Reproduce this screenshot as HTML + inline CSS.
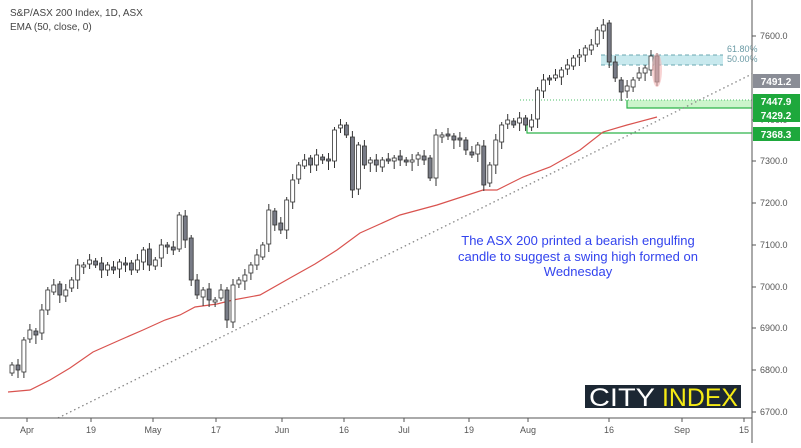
<!DOCTYPE html><html><head><meta charset="utf-8"><style>
body{margin:0;background:#fff;width:801px;height:443px;overflow:hidden;font-family:"Liberation Sans",sans-serif}
</style></head><body>
<svg id="s" width="801" height="443" xmlns="http://www.w3.org/2000/svg" font-family="Liberation Sans, sans-serif">
<rect width="801" height="443" fill="#fff"/>
<text x="10" y="16" font-size="10" fill="#444">S&amp;P/ASX 200 Index, 1D, ASX</text>
<text x="10" y="30" font-size="10" fill="#444">EMA (50, close, 0)</text>
<rect x="601" y="55" width="122" height="10" fill="#c8e9ee"/>
<line x1="601" y1="55" x2="723" y2="55" stroke="#6aa7b0" stroke-dasharray="4,3"/>
<line x1="601" y1="65" x2="723" y2="65" stroke="#6aa7b0" stroke-dasharray="4,3"/>
<text x="727" y="52" font-size="9" fill="#6a9aa5">61.80%</text>
<text x="727" y="62" font-size="9" fill="#6a9aa5">50.00%</text>
<rect x="627" y="100" width="125" height="8" fill="#ccf5cc"/>
<line x1="520" y1="100" x2="752" y2="100" stroke="#4cbf6a" stroke-dasharray="1,2"/>
<polyline points="627,100 627,108 752,108" fill="none" stroke="#2db34a" stroke-width="1.2"/>
<polyline points="527,125 527,133 752,133" fill="none" stroke="#2db34a" stroke-width="1.2"/>
<line x1="58" y1="418" x2="752" y2="74" stroke="#888" stroke-width="1.3" stroke-dasharray="1.5,3"/>
<polyline fill="none" stroke="#d9534f" stroke-width="1.2" points="8,392 30,390 50,380 70,368 93,352 120,340 143,330 165,320 180,315 195,307 217,304 233,300 260,295 290,278 315,264 337,250 360,233 400,215 437,205 483,190 497,190 523,177 550,167 580,150 603,132 627,125 657,117"/>
<g id="c"></g>
<ellipse cx="657" cy="70" rx="5" ry="17" fill="#f3b6b6" opacity="0.6"/>
<line x1="752" y1="0" x2="752" y2="443" stroke="#555"/>
<line x1="0" y1="418" x2="752" y2="418" stroke="#555"/>
<g font-size="9" fill="#555" id="yl"></g>
<g font-size="9" fill="#555" text-anchor="middle" id="xl"></g>
<rect x="753" y="74" width="47" height="14" fill="#8a8d96"/><text x="776" y="85" font-size="10" fill="#fff" text-anchor="middle" font-weight="bold">7491.2</text>
<rect x="753" y="94" width="47" height="14" fill="#1ea83c"/><text x="776" y="105" font-size="10" fill="#fff" text-anchor="middle" font-weight="bold">7447.9</text>
<rect x="753" y="108" width="47" height="14" fill="#1ea83c"/><text x="776" y="119" font-size="10" fill="#fff" text-anchor="middle" font-weight="bold">7429.2</text>
<rect x="753" y="127" width="47" height="14" fill="#1ea83c"/><text x="776" y="138" font-size="10" fill="#fff" text-anchor="middle" font-weight="bold">7368.3</text>
<g font-size="13" fill="#3344ee" text-anchor="middle">
<text x="578" y="245">The ASX 200 printed a bearish engulfing</text>
<text x="578" y="261">candle to suggest a swing high formed on</text>
<text x="578" y="276">Wednesday</text></g>
<rect x="585" y="385" width="156" height="23" fill="#1c2733"/>
<text x="589" y="406" font-size="25" fill="#fff" textLength="66" lengthAdjust="spacingAndGlyphs">CITY</text>
<text x="662" y="406" font-size="25" fill="#f5ea14" textLength="76" lengthAdjust="spacingAndGlyphs">INDEX</text>
</svg>
<script>
var C=[365,370,340,330,335,310,290,285,295,290,280,265,265,260,265,270,265,270,262,265,270,260,250,265,260,245,245,250,215,240,280,295,290,300,300,290,320,285,280,275,265,255,245,210,225,230,200,180,165,160,165,155,160,160,130,125,135,190,145,165,160,165,160,160,158,160,160,160,155,160,178,135,135,135,140,140,150,155,145,185,165,140,125,120,125,118,125,120,90,80,78,75,70,65,58,55,48,45,30,25,62,78,92,86,80,73,68,56,82];
var n=C.length,st=645/(n-1),h='';
for(var i=0;i<n;i++){var x=12+i*st,c=C[i],o=i?C[i-1]+((i*7)%5-2):c+8;
if(i==n-1)o=56;
var t=Math.min(o,c),b=Math.max(o,c);if(b-t<2)b=t+2;
var hi=t-3-(i*3)%6,lo=b+3+(i*5)%7;
var bull=c<o;
h+='<line x1="'+x.toFixed(1)+'" y1="'+hi+'" x2="'+x.toFixed(1)+'" y2="'+lo+'" stroke="#333"/>';
h+='<rect x="'+(x-2).toFixed(1)+'" y="'+t+'" width="4" height="'+(b-t)+'" fill="'+(bull?'#fff':'#787b86')+'" stroke="#333" stroke-width="0.8"/>';}
document.getElementById('c').innerHTML=h;
var y='',v=[[7600,36],[7400,120],[7300,161],[7200,203],[7100,245],[7000,287],[6900,328],[6800,370],[6700,412]];
v.forEach(function(a){y+='<text x="760" y="'+(a[1]+3)+'">'+a[0]+'.0</text><line x1="752" y1="'+a[1]+'" x2="756" y2="'+a[1]+'" stroke="#555"/>';});
document.getElementById('yl').innerHTML=y;
var xs='',L=[['Apr',27],['19',91],['May',153],['17',216],['Jun',282],['16',344],['Jul',404],['19',469],['Aug',528],['16',609],['Sep',682],['15',744]];
L.forEach(function(a){xs+='<text x="'+a[1]+'" y="433">'+a[0]+'</text><line x1="'+a[1]+'" y1="418" x2="'+a[1]+'" y2="422" stroke="#555"/>';});
document.getElementById('xl').innerHTML=xs;
</script>
</body></html>
